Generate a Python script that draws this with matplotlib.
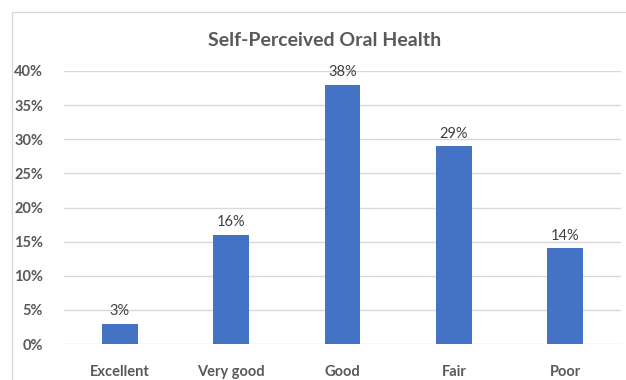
import matplotlib
matplotlib.use("Agg")
import matplotlib.pyplot as plt
from matplotlib.patches import Rectangle
from matplotlib.ticker import PercentFormatter

categories = ["Excellent", "Very good", "Good", "Fair", "Poor"]
shares = [3, 16, 38, 29, 14]
y_ticks = [0, 5, 10, 15, 20, 25, 30, 35, 40]

plt.rcParams['font.family'] = ['Lato', 'DejaVu Sans']

W, H = 626, 380
fig = plt.figure(figsize=(W / 100, H / 100), dpi=100)
fig.patch.set_facecolor("white")

# light chart frame (cropped on the right and bottom)
fig.patches.append(Rectangle((12 / W, -0.1), 2, 1.1 - 12 / H, transform=fig.transFigure,
                             fill=False, edgecolor="#d9d9d9", linewidth=1.0))

ax = fig.add_axes([64 / W, 1 - 344 / H, (621 - 64) / W, (344 - 71) / H])
x = list(range(len(categories)))
bars = ax.bar(x, shares, width=0.32, color="#4472C4", zorder=3)

for b, v in zip(bars, shares):
    ax.text(b.get_x() + b.get_width() / 2, v + 0.8, f"{v}%", ha="center", va="bottom",
            fontsize=10.5, color="#404040")

ax.set_xlim(-0.5, len(categories) - 0.5)
ax.set_ylim(0, 40)
ax.set_yticks(y_ticks)
ax.yaxis.set_major_formatter(PercentFormatter(decimals=0))
ax.set_xticks(x)
ax.set_xticklabels(categories)
ax.grid(axis="y", color="#d9d9d9", linewidth=1.0, zorder=0)
for s in ax.spines.values():
    s.set_visible(False)
ax.tick_params(length=0, labelsize=10.5, labelcolor="#595959")
ax.tick_params(axis="x", pad=15)
ax.tick_params(axis="y", pad=15)
for lab in ax.get_xticklabels() + ax.get_yticklabels():
    lab.set_fontweight("bold")

fig.text(325 / W, 1 - 40 / H, "Self-Perceived Oral Health", ha="center", va="center",
         fontsize=14, fontweight="bold", color="#595959")

fig.savefig("out.png", dpi=100)
